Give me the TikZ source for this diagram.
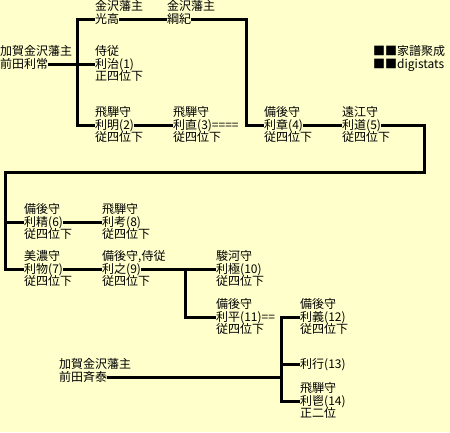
\documentclass[tikz,border=0pt]{standalone}
\usepackage{fontspec}
\newfontfamily\jp{Noto Sans CJK JP}
\usetikzlibrary{positioning}
\definecolor{paper}{HTML}{FFFFCC}
\tikzset{
  lord/.style = {inner sep=0pt, anchor=west, text height=10pt, text depth=2pt,
                 font=\jp\fontsize{12}{12}\selectfont},
  wire/.style = {line width=3pt},
}

\begin{document}
\begin{tikzpicture}[x=1pt,y=-1pt]
  \fill[paper] (0,0) rectangle (450,432);
  \useasboundingbox (0,0) rectangle (450,432);
  % name lines; offices above, ranks below
  \node[lord] (toshitsune) at (0,64) {前田利常};
  \node[lord, above right=0pt of toshitsune.north west] (toshitsune-o) {加賀金沢藩主};
  \node[lord] (mitsutaka) at (95,19) {光高};
  \node[lord, above right=0pt of mitsutaka.north west] (mitsutaka-o) {金沢藩主};
  \node[lord] (tsunanori) at (167,19) {綱紀};
  \node[lord, above right=0pt of tsunanori.north west] (tsunanori-o) {金沢藩主};
  \node[lord] (toshiharu) at (95,64) {利治(1)};
  \node[lord, above right=0pt of toshiharu.north west] (toshiharu-o) {侍従};
  \node[lord, below right=0pt of toshiharu.south west] (toshiharu-r) {正四位下};
  \node[lord] (toshiaki) at (95,125) {利明(2)};
  \node[lord, above right=0pt of toshiaki.north west] (toshiaki-o) {飛騨守};
  \node[lord, below right=0pt of toshiaki.south west] (toshiaki-r) {従四位下};
  \node[lord] (toshinao) at (173,125) {利直(3)====};
  \node[lord, above right=0pt of toshinao.north west] (toshinao-o) {飛騨守};
  \node[lord, below right=0pt of toshinao.south west] (toshinao-r) {従四位下};
  \node[lord] (toshiakira) at (264,125) {利章(4)};
  \node[lord, above right=0pt of toshiakira.north west] (toshiakira-o) {備後守};
  \node[lord, below right=0pt of toshiakira.south west] (toshiakira-r) {従四位下};
  \node[lord] (toshimichi) at (342,125) {利道(5)};
  \node[lord, above right=0pt of toshimichi.north west] (toshimichi-o) {遠江守};
  \node[lord, below right=0pt of toshimichi.south west] (toshimichi-r) {従四位下};
  \node[lord] (toshikiyo) at (24,222) {利精(6)};
  \node[lord, above right=0pt of toshikiyo.north west] (toshikiyo-o) {備後守};
  \node[lord, below right=0pt of toshikiyo.south west] (toshikiyo-r) {従四位下};
  \node[lord] (toshinari) at (102,222) {利考(8)};
  \node[lord, above right=0pt of toshinari.north west] (toshinari-o) {飛騨守};
  \node[lord, below right=0pt of toshinari.south west] (toshinari-r) {従四位下};
  \node[lord] (toshimono) at (24,269) {利物(7)};
  \node[lord, above right=0pt of toshimono.north west] (toshimono-o) {美濃守};
  \node[lord, below right=0pt of toshimono.south west] (toshimono-r) {従四位下};
  \node[lord] (toshikore) at (102,269) {利之(9)};
  \node[lord, above right=0pt of toshikore.north west] (toshikore-o) {備後守,侍従};
  \node[lord, below right=0pt of toshikore.south west] (toshikore-r) {従四位下};
  \node[lord] (toshitaka) at (216,269) {利極(10)};
  \node[lord, above right=0pt of toshitaka.north west] (toshitaka-o) {駿河守};
  \node[lord, below right=0pt of toshitaka.south west] (toshitaka-r) {従四位下};
  \node[lord] (toshihira) at (216,317) {利平(11)==};
  \node[lord, above right=0pt of toshihira.north west] (toshihira-o) {備後守};
  \node[lord, below right=0pt of toshihira.south west] (toshihira-r) {従四位下};
  \node[lord] (toshiyoshi) at (300,317) {利義(12)};
  \node[lord, above right=0pt of toshiyoshi.north west] (toshiyoshi-o) {備後守};
  \node[lord, below right=0pt of toshiyoshi.south west] (toshiyoshi-r) {従四位下};
  \node[lord] (toshiyuki) at (300,364) {利行(13)};
  \node[lord] (toshika) at (300,401) {利鬯(14)};
  \node[lord, above right=0pt of toshika.north west] (toshika-o) {飛騨守};
  \node[lord, below right=0pt of toshika.south west] (toshika-r) {正二位};
  \node[lord] (nariyasu) at (59,377) {前田斉泰};
  \node[lord, above right=0pt of nariyasu.north west] (nariyasu-o) {加賀金沢藩主};
  \node[lord] (logo) at (373,64) {■■digistats};
  \node[lord, above right=0pt of logo.north west] (logo-o) {■■家譜聚成};

  \coordinate (j1) at (77,125);
  \coordinate (j2) at (246,125);
  \coordinate (j3) at (424,172);
  \coordinate (j4) at (5,269);
  \coordinate (j5) at (185,317);
  \coordinate (j6) at (281,401);

  \draw[wire] (toshitsune.east) -- (toshiharu.west);
  \draw[wire] (mitsutaka.west) -| (j1) -- (toshiaki.west);
  \draw[wire] (mitsutaka.east) -- (tsunanori.west);
  \draw[wire] (tsunanori.east) -| (j2) -- (toshiakira.west);
  \draw[wire] (toshiaki.east) -- (toshinao.west);
  \draw[wire] (toshiakira.east) -- (toshimichi.west);
  \draw[wire] (toshimichi.east) -| (j3) -| (j4) -- (toshimono.west);
  \draw[wire] (toshikiyo.west) -- (toshikiyo.west -| j4);
  \draw[wire] (toshikiyo.east) -- (toshinari.west);
  \draw[wire] (toshimono.east) -- (toshikore.west);
  \draw[wire] (toshikore.east) -- (toshitaka.west);
  \draw[wire] (toshikore.east -| j5) -- (j5) -- (toshihira.west);
  \draw[wire] (toshiyoshi.west) -| (j6) -- (toshika.west);
  \draw[wire] (toshiyuki.west) -- (toshiyuki.west -| j6);
  \draw[wire] (nariyasu.east) -- (nariyasu.east -| j6);
\end{tikzpicture}
\end{document}
